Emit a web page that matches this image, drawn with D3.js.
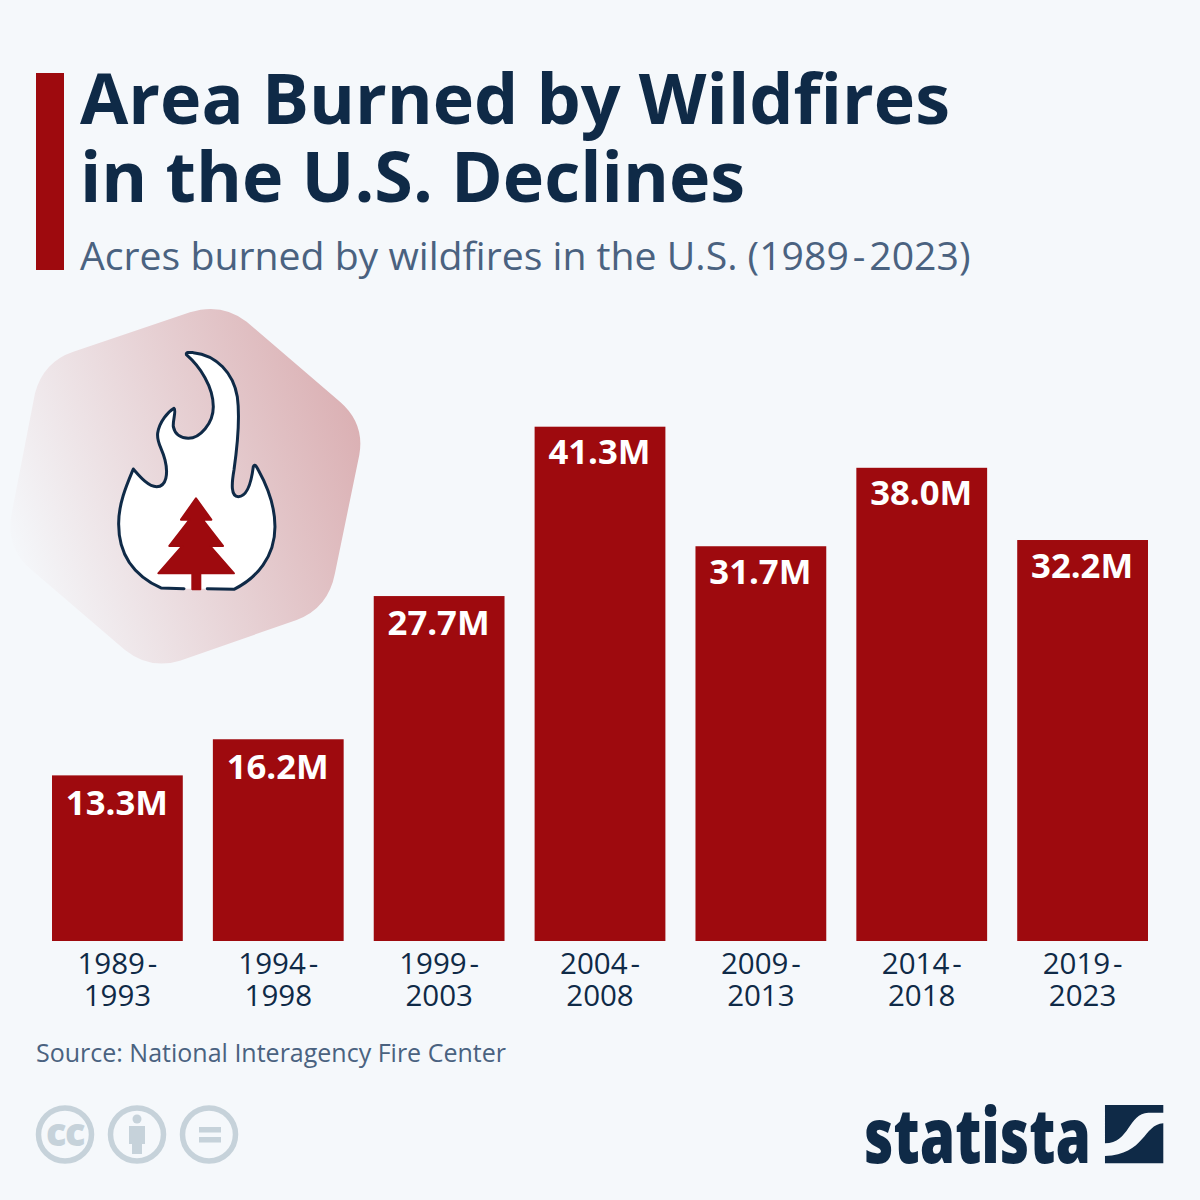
<!DOCTYPE html>
<html>
<head>
<meta charset="utf-8">
<script src="https://cdn.jsdelivr.net/npm/d3@7"></script>
<style>
  html, body { margin: 0; padding: 0; background: #f5f8fb; }
  svg { display: block; font-family: "Open Sans", sans-serif; }
</style>
</head>
<body>
<div id="container"></div>
<script>
// DATA ####################################
const periods = ["1989-1993", "1994-1998", "1999-2003", "2004-2008", "2009-2013", "2014-2018", "2019-2023"];
const acres = [13.3, 16.2, 27.7, 41.3, 31.7, 38.0, 32.2];
const titleLines = ["Area Burned by Wildfires", "in the U.S. Declines"];
const subtitle = "Acres burned by wildfires in the U.S. (1989\u200A-\u200A2023)";
const source = "Source: National Interagency Fire Center";

// CONSTANTS ###############################
const width = 1200, height = 1200;
const red = "#9e0a0e", navy = "#0f2a47", slate = "#4a6280", grey = "#c6d2da";

const svg = d3.select("#container").append("svg")
  .attr("width", width)
  .attr("height", height)
  .style("background-color", "#f5f8fb");

// SCALES ----------------------------------
const xScale = d3.scaleBand()
  .domain(periods)
  .range([52, 1148])
  .paddingInner(0.187);

const yScale = d3.scaleLinear()
  .domain([0, 41.3])
  .range([941, 426.7]);

// value labels sit a little higher on the tall bars than on the short ones
const labelScale = d3.scaleLinear()
  .domain([0, 41.3])
  .range([982.3, 463.8]);

// HEADER ----------------------------------
svg.append("rect").attr("x", 36).attr("y", 73).attr("width", 28).attr("height", 197).attr("fill", red);

svg.selectAll("text.title")
  .data(titleLines)
  .join("text")
  .attr("class", "title")
  .attr("x", 80)
  .attr("y", (d, i) => 123.5 + i * 78)
  .attr("font-size", 70)
  .attr("font-weight", 700)
  .attr("fill", navy)
  .text(d => d);

svg.append("text")
  .attr("x", 80).attr("y", 269.5)
  .attr("font-size", 39.2)
  .attr("fill", slate)
  .text(subtitle);

// ICON ------------------------------------
const defs = svg.append("defs");
const grad = defs.append("linearGradient")
  .attr("id", "hexFade")
  .attr("x1", "0%").attr("y1", "70%")
  .attr("x2", "100%").attr("y2", "35%");
grad.append("stop").attr("offset", "0%").attr("stop-color", red).attr("stop-opacity", 0);
grad.append("stop").attr("offset", "100%").attr("stop-color", red).attr("stop-opacity", 0.3);

// traced in 3x crop coordinates, origin at (0,300)
const icon = svg.append("g").attr("transform", "translate(0,300) scale(0.3333)");
icon.append("path")
  .attr("fill", "url(#hexFade)")
  .attr("d", "M220,155 L570,37 Q665,7 740,65 L1020,305 Q1095,370 1078,465 L1005,820 Q985,925 890,960 L540,1082 Q450,1110 375,1050 L95,810 Q15,745 35,640 L105,280 Q130,185 220,155 Z");

icon.append("path")
  .attr("fill", "#ffffff")
  .attr("stroke", navy)
  .attr("stroke-width", 9)
  .attr("stroke-linecap", "round")
  .attr("stroke-linejoin", "round")
  .attr("d", "M552,866 L483,864 C420,835 355,780 356,670 C356,610 380,555 400,507 C420,530 445,560 470,560 C500,560 505,520 495,480 C485,440 470,430 473,400 C478,365 505,335 522,325 C530,330 518,360 520,380 C525,405 545,415 565,415 C600,415 640,370 640,320 C640,260 600,200 560,165 C555,155 570,157 580,158 C650,165 700,220 712,290 C720,350 712,440 702,510 C695,550 692,590 715,590 C745,590 755,540 760,500 C765,490 770,500 775,510 C800,555 825,610 825,680 C825,770 770,835 702,868 L622,866");

icon.append("path")
  .attr("fill", red)
  .attr("stroke", red)
  .attr("stroke-width", 6)
  .attr("stroke-linejoin", "round")
  .attr("d", "M588,595 L634,659 L608,659 L669,738 L630,738 L702,820 L601,820 L601,868 L577,868 L577,820 L475,820 L547,738 L508,738 L569,659 L543,659 Z");

// BARS ------------------------------------
svg.selectAll("rect.bar")
  .data(periods)
  .join("rect")
  .attr("class", "bar")
  .attr("x", d => xScale(d))
  .attr("y", (d, i) => yScale(acres[i]))
  .attr("width", xScale.bandwidth())
  .attr("height", (d, i) => yScale(0) - yScale(acres[i]))
  .attr("fill", red);

svg.selectAll("text.value")
  .data(periods)
  .join("text")
  .attr("class", "value")
  .attr("x", d => xScale(d) + xScale.bandwidth() / 2 - 0.5)
  .attr("y", (d, i) => labelScale(acres[i]))
  .attr("text-anchor", "middle")
  .attr("font-size", 34.7)
  .attr("font-weight", 700)
  .attr("fill", "#ffffff")
  .text((d, i) => acres[i].toFixed(1) + "M");

// AXIS ------------------------------------
const xAxis = svg.append("g")
  .attr("transform", "translate(0,941)")
  .call(d3.axisBottom(xScale).tickSize(0).tickPadding(0));
xAxis.select(".domain").remove();
xAxis.selectAll(".tick text").each(function (d) {
  const parts = d.split("-");
  const t = d3.select(this).text(null)
    .attr("y", null).attr("dy", null)
    .attr("font-size", 29.5)
    .attr("font-family", "\"Open Sans\", sans-serif")
    .attr("fill", navy);
  t.append("tspan").attr("x", 0).attr("y", 32.5).text(parts[0] + "\u200A-");
  t.append("tspan").attr("x", 0).attr("y", 64.5).text(parts[1]);
});

// FOOTER ----------------------------------
svg.append("text")
  .attr("x", 36).attr("y", 1062)
  .attr("font-size", 25)
  .attr("fill", slate)
  .text(source);

const badges = svg.append("g")
  .attr("fill", "none")
  .attr("stroke", grey)
  .attr("stroke-width", 5.5);
[65, 137, 209].forEach(cx => badges.append("circle").attr("cx", cx).attr("cy", 1134.5).attr("r", 26.5));

svg.append("text")
  .attr("x", 65).attr("y", 1145.5)
  .attr("text-anchor", "middle")
  .attr("font-size", 38)
  .attr("font-weight", 800)
  .attr("letter-spacing", -1.5)
  .attr("fill", grey)
  .text("cc");

const person = svg.append("g").attr("fill", grey);
person.append("circle").attr("cx", 137).attr("cy", 1119).attr("r", 4.5);
person.append("path").attr("d", "M129,1126 L145,1126 L145,1144 L142,1144 L142,1154 L132,1154 L132,1144 L129,1144 Z");
person.append("rect").attr("x", 199).attr("y", 1127).attr("width", 22).attr("height", 5.5);
person.append("rect").attr("x", 199).attr("y", 1137).attr("width", 22).attr("height", 5.5);

// LOGO ------------------------------------
svg.append("text")
  .attr("x", 864).attr("y", 1163)
  .attr("font-size", 76)
  .attr("font-weight", 800)
  .attr("textLength", 227)
  .attr("lengthAdjust", "spacingAndGlyphs")
  .attr("fill", navy)
  .text("statista");

const mark = svg.append("g").attr("transform", "translate(850,1090) scale(0.3333)").attr("fill", navy);
mark.append("path").attr("d", "M765,45 L940,45 L940,68 L895,68 C835,70 840,158 765,160 Z");
mark.append("path").attr("d", "M940,100 C880,103 885,195 765,198 L765,220 L940,220 Z");
</script>
</body>
</html>
